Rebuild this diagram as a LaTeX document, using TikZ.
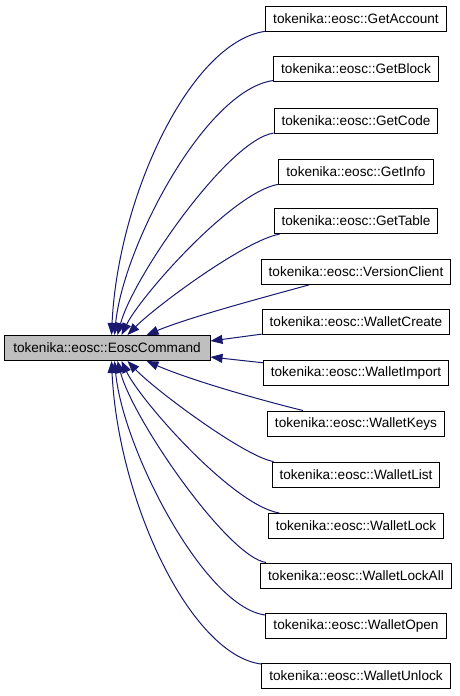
\documentclass[tikz,border=0pt]{standalone}
\usepackage{fontspec}
\setmainfont{Liberation Sans}
\usetikzlibrary{arrows.meta}
\definecolor{edgeblue}{HTML}{191970}
\begin{document}
\begin{tikzpicture}[x=1pt,y=-1pt,
  cls/.style={draw=black, line width=1pt, fill=white, minimum height=25pt,
    inner xsep=7.5pt, inner ysep=0pt, font=\fontsize{13.6}{16}\selectfont},
  base/.style={cls, fill=black!25, minimum width=206pt},
  inh/.style={draw=edgeblue, line width=1pt, {Triangle[length=12pt,width=9pt]}-}
]
\useasboundingbox (0,0) rectangle (459,696);

\node[base] (p) at (107,348) {tokenika::eosc::EoscCommand};

\node[cls] (c1)  at (356,18.5)  {tokenika::eosc::GetAccount};
\node[cls] (c2)  at (356,69)    {tokenika::eosc::GetBlock};
\node[cls] (c3)  at (356,120.5) {tokenika::eosc::GetCode};
\node[cls] (c4)  at (356,171.5) {tokenika::eosc::GetInfo};
\node[cls] (c5)  at (356,221)   {tokenika::eosc::GetTable};
\node[cls] (c6)  at (356,272)   {tokenika::eosc::VersionClient};
\node[cls] (c7)  at (356,321.5) {tokenika::eosc::WalletCreate};
\node[cls] (c8)  at (356,373)   {tokenika::eosc::WalletImport};
\node[cls] (c9)  at (356,423.5) {tokenika::eosc::WalletKeys};
\node[cls] (c10) at (356,474.5) {tokenika::eosc::WalletList};
\node[cls] (c11) at (356,526)   {tokenika::eosc::WalletLock};
\node[cls] (c12) at (356,575.5) {tokenika::eosc::WalletLockAll};
\node[cls] (c13) at (356,625.5) {tokenika::eosc::WalletOpen};
\node[cls] (c14) at (356,676)   {tokenika::eosc::WalletUnlock};

% upper children
\draw[inh] ([xshift=108pt]p.north west) .. controls (118,197) and (190,42)  .. (c1);
\draw[inh] ([xshift=111pt]p.north west) .. controls (123,247) and (205,90)  .. (c2);
\draw[inh] ([xshift=114pt]p.north west) .. controls (133,277) and (228,140) .. (c3);
\draw[inh] ([xshift=118pt]p.north west) .. controls (140,297) and (232,192) .. (c4);
\draw[inh] ([xshift=124pt]p.north west) .. controls (155,307) and (245,240) .. (c5);
\draw[inh] ([xshift=143pt]p.north west) .. controls (190,317) and (265,297) .. (c6);
% side children
\draw[inh] ([yshift=7pt]p.east) -- (c7);
\draw[inh] ([yshift=-9pt]p.east) -- (c8);
% lower children
\draw[inh] ([xshift=143pt]p.south west) .. controls (190,380) and (260,400) .. (c9);
\draw[inh] ([xshift=124pt]p.south west) .. controls (155,390) and (245,457) .. (c10);
\draw[inh] ([xshift=118pt]p.south west) .. controls (140,400) and (232,505) .. (c11);
\draw[inh] ([xshift=114pt]p.south west) .. controls (133,420) and (228,557) .. (c12);
\draw[inh] ([xshift=111pt]p.south west) .. controls (123,450) and (205,608) .. (c13);
\draw[inh] ([xshift=108pt]p.south west) .. controls (118,500) and (190,655) .. (c14);
\end{tikzpicture}
\end{document}
